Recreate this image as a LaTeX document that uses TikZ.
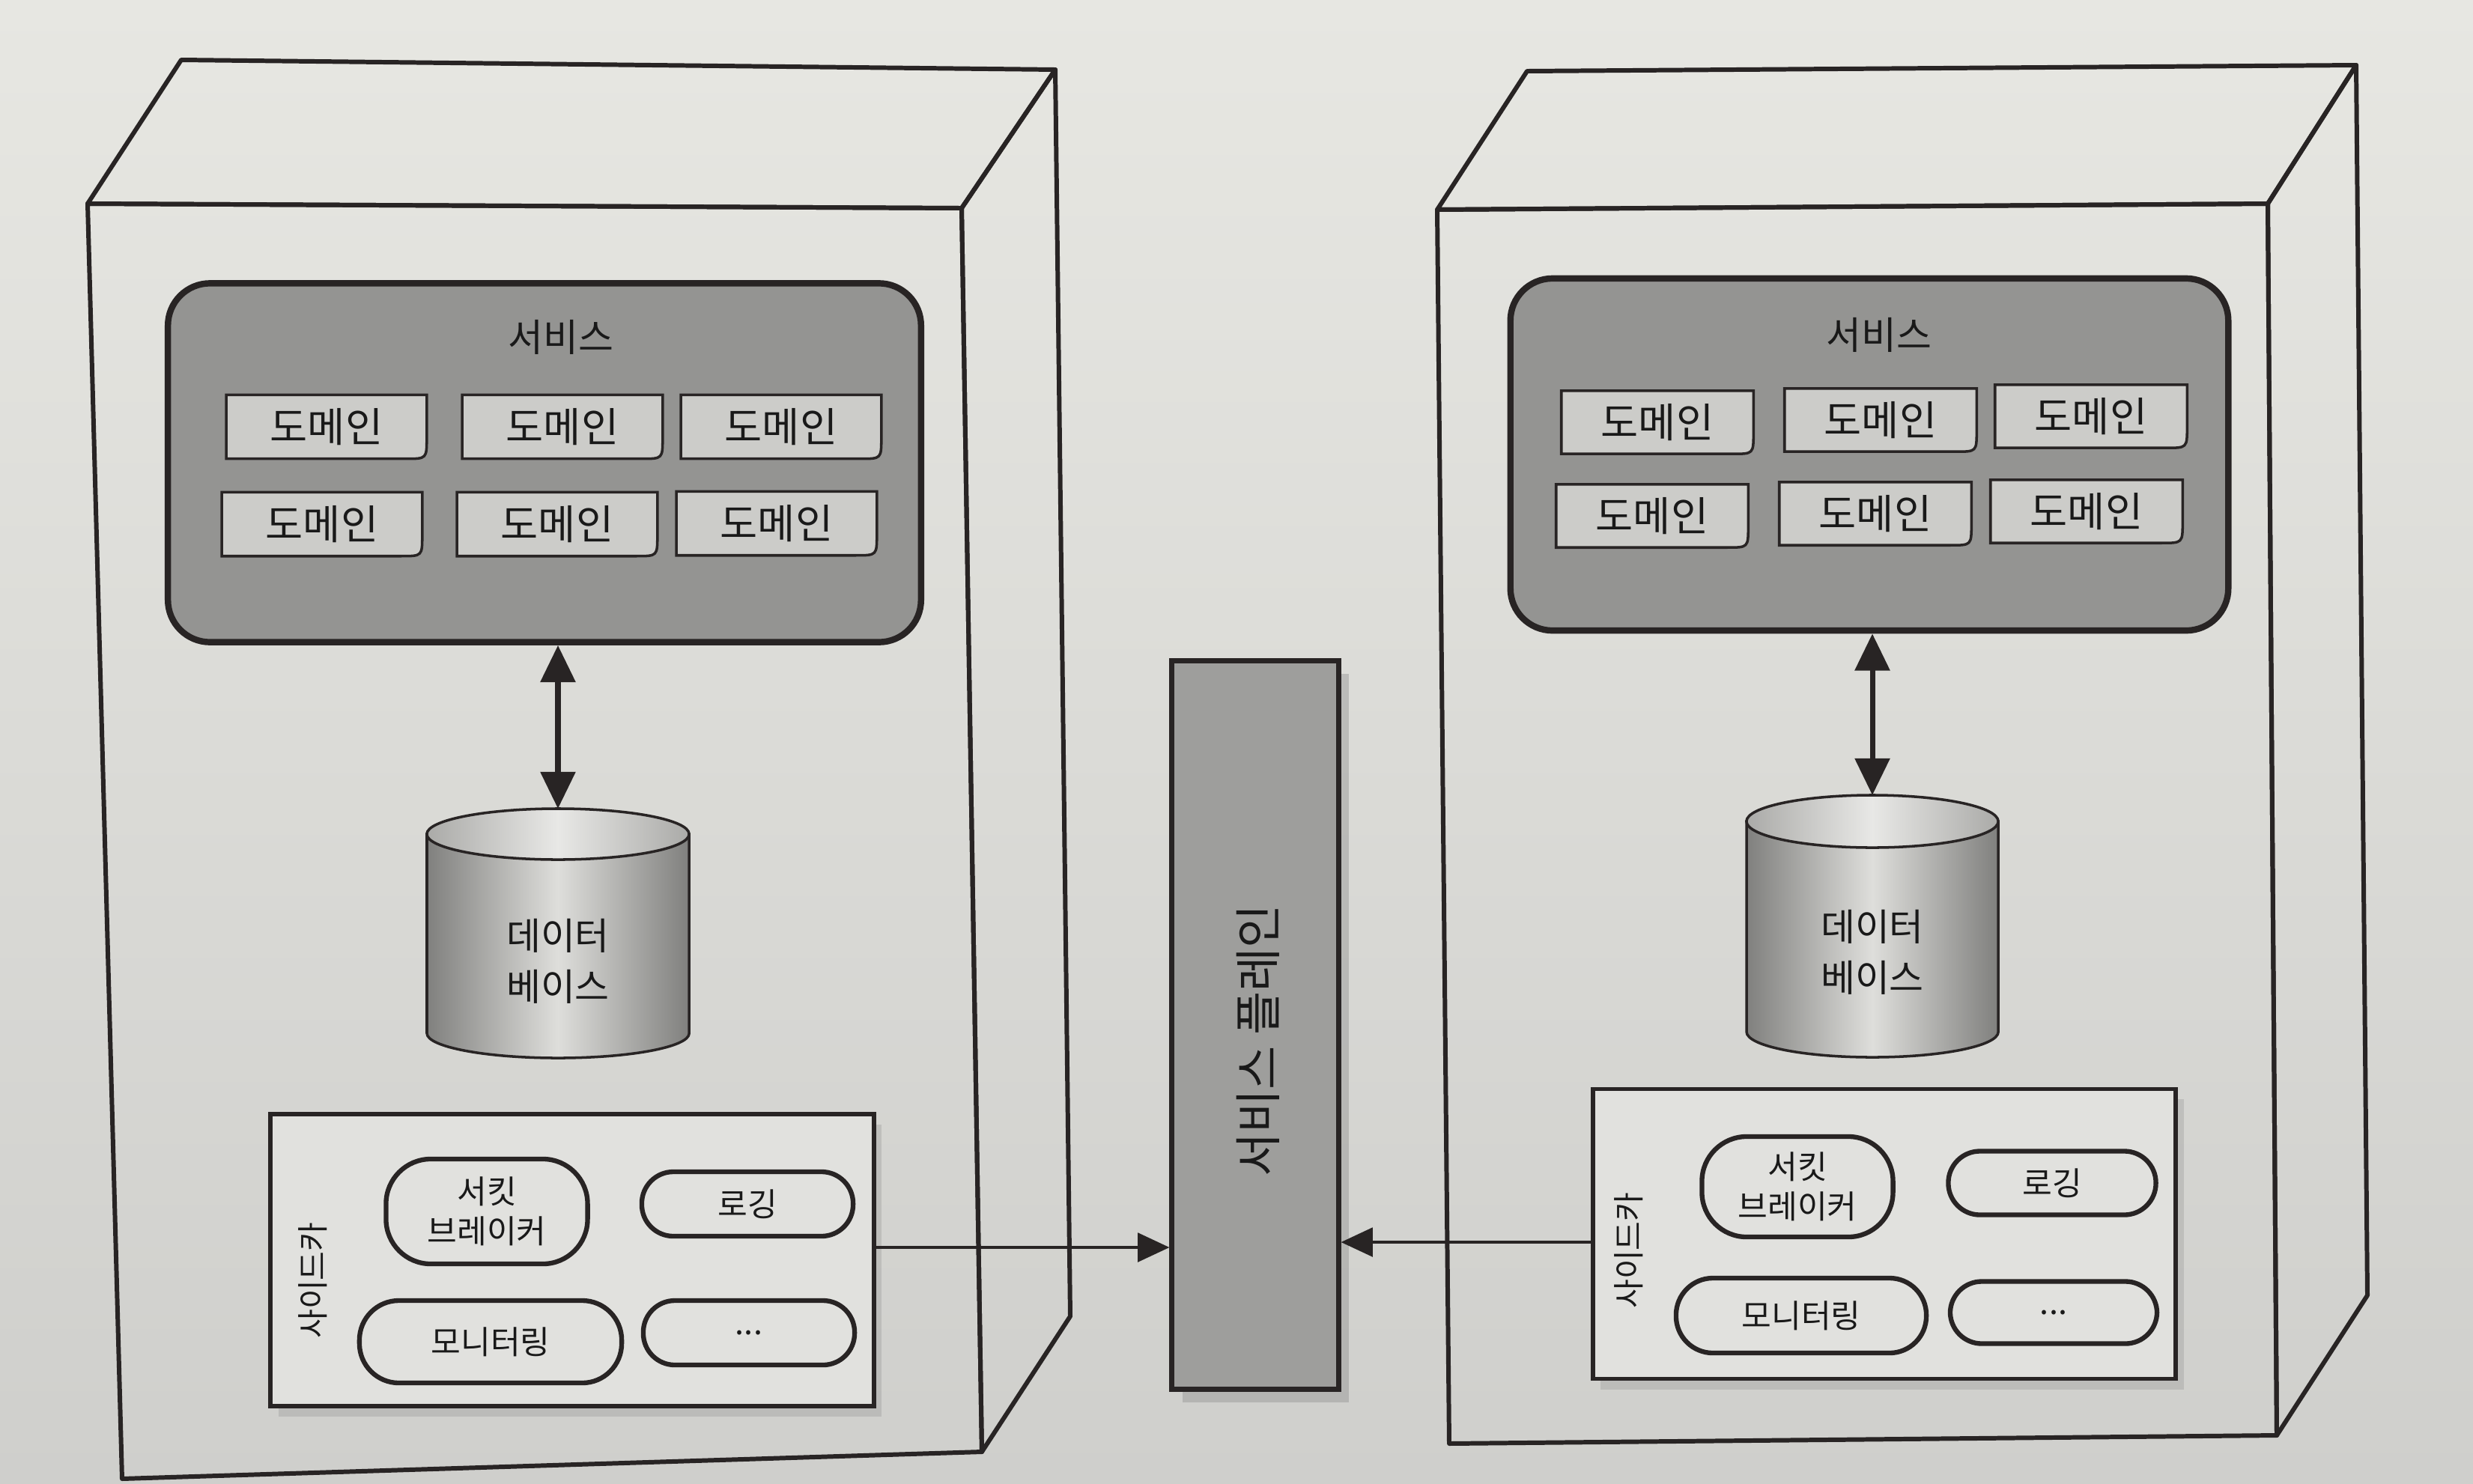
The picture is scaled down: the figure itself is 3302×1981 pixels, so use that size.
\documentclass[tikz,border=0pt]{standalone}
\usepackage{fontspec}
\setmainfont{Noto Sans CJK KR}
\usetikzlibrary{arrows.meta,shadows}
\definecolor{paper}{RGB}{221,221,216}
\definecolor{paperhi}{RGB}{231,231,226}
\definecolor{paperlo}{RGB}{207,207,204}
\definecolor{ink}{RGB}{40,36,36}
\definecolor{svcfill}{RGB}{148,148,146}
\definecolor{domfill}{RGB}{204,204,201}
\definecolor{scfill}{RGB}{225,225,222}
\definecolor{planefill}{RGB}{158,158,156}
\definecolor{cyldark}{RGB}{128,128,126}
\definecolor{cyllight}{RGB}{222,222,219}
\definecolor{txt}{RGB}{25,25,25}
\newcommand\mkdomain[3]{%
  \node[domslot] (#1) at (#2,#3) {};
  \filldraw[domline] (#1.north west) -- (#1.north east) -- ([yshift=8pt]#1.south east) .. controls (#1.south east) .. ([xshift=-8pt]#1.south east) -- (#1.south west) -- cycle;
  \node[domtext] at (#1.center) {도메인};}
\begin{document}
\begin{tikzpicture}[x=0.01cm, y=-0.01cm,
  cube/.style={draw=ink, line width=1.7pt, line join=round},
  svc/.style={draw=ink, line width=2.4pt, fill=svcfill, rounded corners=16pt, inner sep=0pt},
  domslot/.style={minimum width=2.66cm, minimum height=0.84cm, inner sep=0pt},
  domline/.style={draw=ink, line width=1pt, fill=domfill},
  domtext/.style={text=txt, font=\fontsize{15.5}{17}\selectfont, inner sep=0pt},
  svctext/.style={text=txt, font=\fontsize{14.5}{16}\selectfont},
  cylbody/.style={draw=ink, line width=1pt, left color=cyldark, right color=cyldark, middle color=cyllight},
  cyltop/.style={draw=ink, line width=1pt, left color=cyldark!55!cyllight, right color=cyldark!55!cyllight, middle color=cyllight!70!white},
  dbtext/.style={text=txt, align=center, font=\fontsize{14.2}{19.5}\selectfont},
  sidecar/.style={draw=ink, line width=1.6pt, fill=scfill, inner sep=0pt, drop shadow={shadow xshift=3pt, shadow yshift=-4pt, opacity=0.25}},
  item/.style={draw=ink, line width=1.8pt, fill=scfill, inner sep=0pt, align=center, text=txt, font=\fontsize{12.3}{15}\selectfont},
  sclabel/.style={rotate=90, text=txt, font=\fontsize{12}{14}\selectfont},
  plane/.style={draw=ink, line width=2pt, fill=planefill, inner sep=0pt, drop shadow={shadow xshift=4pt, shadow yshift=-5pt, opacity=0.35}},
  planetext/.style={rotate=90, text=txt, font=\fontsize{18}{20}\selectfont},
  dbarrow/.style={draw=ink, line width=2pt, {Triangle[length=14pt,width=13pt]}-{Triangle[length=14pt,width=13pt]}},
  plarrow/.style={draw=ink, line width=0.9pt, -{Triangle[length=12pt,width=11pt]}}
]
\useasboundingbox (0,0) rectangle (3302,1981);
\shade[top color=paperhi, bottom color=paperlo] (0,0) rectangle (3302,1981);

% ---------- left host (cube) ----------
\draw[cube] (117,272) -- (242,80) -- (1409,93) -- (1284,278) -- cycle;
\draw[cube] (1284,278) -- (1409,93) -- (1429,1758) -- (1311,1939) -- cycle;
\draw[cube] (117,272) -- (1284,278) -- (1311,1939) -- (163,1975) -- cycle;

% ---------- right host (cube) ----------
\draw[cube] (1919,280) -- (2039,95) -- (3146,87) -- (3028,272) -- cycle;
\draw[cube] (3028,272) -- (3146,87) -- (3161,1730) -- (3040,1917) -- cycle;
\draw[cube] (1919,280) -- (3028,272) -- (3040,1917) -- (1935,1928) -- cycle;

% ---------- left service ----------
\node[svc, minimum width=10.05cm, minimum height=4.79cm] (svc1) at (727,618) {};
\node[svctext] (svc1t) at (749,450) {서비스};
\mkdomain{d11}{436}{570}
\mkdomain{d12}{751}{570}
\mkdomain{d13}{1043}{570}
\mkdomain{d14}{430}{700}
\mkdomain{d15}{744}{700}
\mkdomain{d16}{1037}{699}

% ---------- right service ----------
\node[svc, minimum width=9.58cm, minimum height=4.70cm] (svc2) at (2496,607) {};
\node[svctext] (svc2t) at (2509,447) {서비스};
\begin{scope}[domslot/.append style={minimum width=2.55cm, minimum height=0.83cm}]
\mkdomain{d21}{2213}{564}
\mkdomain{d22}{2511}{561}
\mkdomain{d23}{2792}{556}
\mkdomain{d24}{2206}{689}
\mkdomain{d25}{2504}{686}
\mkdomain{d26}{2786}{683}
\end{scope}

% ---------- databases ----------
\filldraw[cylbody] (570,1114) -- (570,1380) arc[start angle=180, end angle=360, x radius=1.75cm, y radius=0.33cm] -- (920,1114) -- cycle;
\filldraw[cyltop] (745,1114) ellipse [x radius=1.75cm, y radius=0.34cm];
\coordinate (db1top) at (745,1080);
\node[dbtext] (db1) at (745,1284) {데이터\\베이스};

\filldraw[cylbody] (2332,1097) -- (2332,1378) arc[start angle=180, end angle=360, x radius=1.68cm, y radius=0.34cm] -- (2668,1097) -- cycle;
\filldraw[cyltop] (2500,1097) ellipse [x radius=1.68cm, y radius=0.35cm];
\coordinate (db2top) at (2500,1062);
\node[dbtext] (db2) at (2500,1272) {데이터\\베이스};

\draw[dbarrow] (svc1.south -| db1top) -- (db1top);
\draw[dbarrow] (svc2.south -| db2top) -- (db2top);

% ---------- sidecars ----------
\node[sidecar, minimum width=8.05cm, minimum height=3.90cm] (sc1) at (764,1683) {};
\node[sclabel] (sc1l) at (418,1710) {사이드카};
\node[item, minimum width=2.69cm, minimum height=1.40cm, rounded corners=17pt] (cb1) at (650,1618) {서킷\\브레이커};
\node[item, minimum width=2.82cm, minimum height=0.86cm, rounded corners=12pt] (lg1) at (998,1608) {로깅};
\node[item, minimum width=3.50cm, minimum height=1.10cm, rounded corners=15pt] (mn1) at (655,1792) {모니터링};
\node[item, minimum width=2.82cm, minimum height=0.86cm, rounded corners=12pt] (et1) at (1000,1780) {...};

\node[sidecar, minimum width=7.78cm, minimum height=3.87cm] (sc2) at (2516,1648) {};
\node[sclabel] (sc2l) at (2175,1670) {사이드카};
\node[item, minimum width=2.55cm, minimum height=1.34cm, rounded corners=17pt] (cb2) at (2400,1585) {서킷\\브레이커};
\node[item, minimum width=2.77cm, minimum height=0.85cm, rounded corners=12pt] (lg2) at (2740,1580) {로깅};
\node[item, minimum width=3.34cm, minimum height=1.00cm, rounded corners=14pt] (mn2) at (2405,1757) {모니터링};
\node[item, minimum width=2.76cm, minimum height=0.83cm, rounded corners=12pt] (et2) at (2742,1753) {...};

% ---------- service plane ----------
\node[plane, minimum width=2.22cm, minimum height=9.72cm] (plane) at (1676,1369) {};
\node[planetext] (planet) at (1680,1390) {서비스 플레인};

\coordinate (lvl) at (0,1666);
\coordinate (rvl) at (0,1659);
\draw[plarrow] (sc1.east |- lvl) -- (plane.west |- lvl);
\draw[plarrow] (sc2.west |- rvl) -- (plane.east |- rvl);
\end{tikzpicture}
\end{document}
